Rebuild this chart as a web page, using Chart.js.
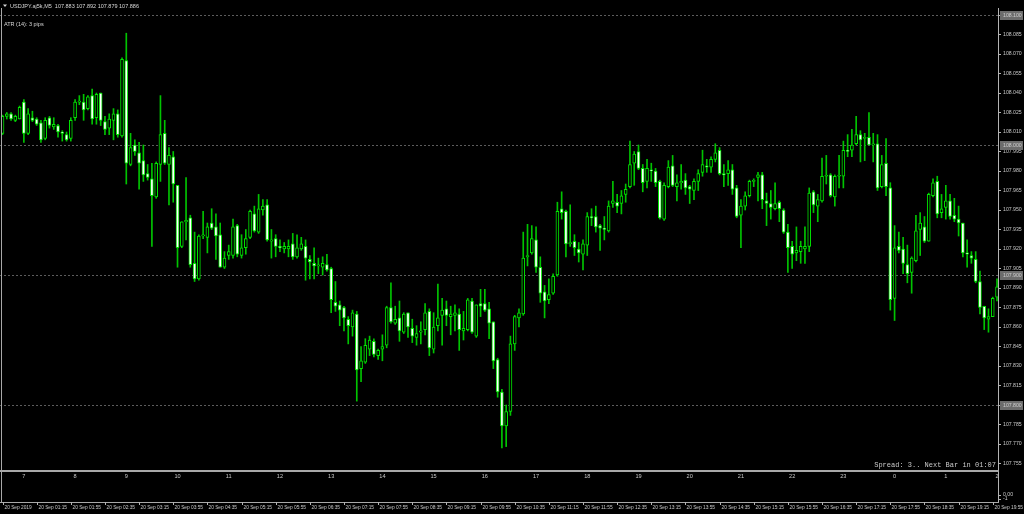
<!DOCTYPE html>
<html>
<head>
<meta charset="utf-8">
<script src="https://cdn.jsdelivr.net/npm/chart.js@4.4.0/dist/chart.umd.min.js"></script>
<style>
  html, body { margin: 0; padding: 0; background: #000; }
  #chart { display: block; }
</style>
</head>
<body>
<canvas id="chart" width="1024" height="514"></canvas>
<script>
// USDJPY M5 bars (open / high / low / close)
const opens = [
  108.009,108.022,108.024,108.019,108.020,108.033,108.009,108.021,108.020,108.017,
  108.005,108.021,108.014,108.015,108.010,108.008,108.005,108.021,108.033,108.033,
  108.028,108.038,108.021,108.040,108.018,108.013,108.019,108.024,108.007,108.065,
  107.985,108.000,107.994,107.988,107.978,107.974,107.960,107.985,108.009,107.985,
  107.991,107.969,107.922,107.941,107.944,107.909,107.897,107.930,107.929,107.940,
  107.937,107.931,107.906,107.915,107.915,107.938,107.915,107.921,107.929,107.947,
  107.933,107.950,107.954,107.926,107.928,107.922,107.920,107.920,107.924,107.914,
  107.920,107.922,107.912,107.909,107.907,107.906,107.908,107.905,107.879,107.877,
  107.875,107.866,107.860,107.870,107.828,107.833,107.843,107.849,107.838,107.843,
  107.846,107.875,107.863,107.867,107.856,107.871,107.859,107.852,107.856,107.858,
  107.872,107.843,107.861,107.869,107.874,107.868,107.869,107.870,107.857,107.858,
  107.880,107.853,107.878,107.878,107.874,107.864,107.835,107.810,107.784,107.795,
  107.847,107.867,107.870,107.914,107.917,107.927,107.906,107.887,107.881,107.886,
  107.900,107.951,107.949,107.924,107.926,107.920,107.916,107.923,107.945,107.945,
  107.938,107.936,107.934,107.955,107.956,107.955,107.962,107.968,107.986,107.995,
  107.982,107.972,107.981,107.980,107.972,107.943,107.968,107.984,107.968,107.971,
  107.973,107.968,107.965,107.972,107.979,107.984,107.983,107.989,107.996,107.978,
  107.978,107.981,107.967,107.946,107.953,107.961,107.972,107.975,107.977,107.957,
  107.955,107.951,107.956,107.950,107.933,107.922,107.917,107.918,107.920,107.922,
  107.964,107.953,107.957,107.976,107.977,107.960,107.976,107.976,107.996,107.996,
  108.001,108.008,108.005,108.006,108.000,108.001,107.968,107.986,107.967,107.882,
  107.922,107.920,107.908,107.902,107.911,107.935,107.937,107.926,107.961,107.972,
  107.948,107.952,107.957,107.946,107.943,107.940,107.917,107.915,107.912,107.895,
  107.876,107.866,107.868,107.883
]
const highs = [
  108.023,108.025,108.025,108.023,108.030,108.035,108.028,108.026,108.021,108.019,
  108.021,108.022,108.021,108.016,108.011,108.010,108.021,108.035,108.038,108.039,
  108.038,108.043,108.040,108.040,108.022,108.024,108.028,108.027,108.067,108.086,
  108.009,108.004,108.002,108.000,107.985,107.986,107.987,108.038,108.019,107.998,
  107.995,107.969,107.941,107.975,107.946,107.933,107.931,107.949,107.940,107.951,
  107.947,107.940,107.918,107.923,107.943,107.939,107.931,107.935,107.950,107.953,
  107.962,107.958,107.958,107.935,107.931,107.927,107.925,107.927,107.932,107.931,
  107.929,107.927,107.915,107.921,107.913,107.914,107.916,107.906,107.895,107.880,
  107.876,107.868,107.873,107.872,107.845,107.851,107.853,107.851,107.843,107.854,
  107.876,107.894,107.876,107.880,107.871,107.871,107.866,107.861,107.864,107.878,
  107.874,107.871,107.893,107.882,107.880,107.876,107.877,107.874,107.872,107.882,
  107.882,107.877,107.889,107.889,107.879,107.864,107.836,107.812,107.800,107.853,
  107.869,107.874,107.933,107.939,107.938,107.937,107.914,107.892,107.897,107.901,
  107.956,107.964,107.950,107.954,107.931,107.925,107.927,107.948,107.951,107.953,
  107.939,107.945,107.957,107.972,107.962,107.965,107.970,108.003,107.995,108.000,
  107.985,107.989,107.986,107.982,107.973,107.971,107.988,107.992,107.977,107.985,
  107.978,107.969,107.974,107.981,107.996,107.989,107.991,108.001,107.998,107.985,
  107.988,107.985,107.969,107.958,107.964,107.973,107.974,107.979,107.979,107.963,
  107.965,107.971,107.957,107.951,107.939,107.926,107.937,107.926,107.937,107.967,
  107.965,107.962,107.990,107.992,107.978,107.977,107.992,108.003,108.008,108.012,
  108.022,108.011,108.009,108.025,108.009,108.008,107.992,108.005,107.971,107.938,
  107.933,107.929,107.923,107.914,107.946,107.948,107.945,107.963,107.974,107.976,
  107.962,107.969,107.962,107.959,107.953,107.940,107.927,107.918,107.918,107.903,
  107.876,107.874,107.883,107.897
]
const lows = [
  108.008,108.020,108.019,108.018,108.020,108.002,108.008,108.018,108.015,108.002,
  108.004,108.013,108.012,108.006,108.003,108.003,108.003,108.019,108.031,108.019,
  108.027,108.016,108.016,108.015,108.008,108.008,108.004,108.006,108.006,107.970,
  107.984,107.992,107.966,107.972,107.973,107.922,107.959,107.972,107.985,107.954,
  107.956,107.906,107.921,107.927,107.906,107.895,107.896,107.928,107.917,107.935,
  107.912,107.906,107.905,107.912,107.913,107.914,107.913,107.916,107.928,107.933,
  107.932,107.946,107.926,107.913,107.914,107.918,107.917,107.914,107.912,107.913,
  107.919,107.896,107.897,107.897,107.901,107.900,107.903,107.871,107.872,107.861,
  107.857,107.847,107.853,107.803,107.818,107.832,107.838,107.837,107.835,107.834,
  107.844,107.863,107.862,107.849,107.855,107.852,107.848,107.846,107.847,107.854,
  107.838,107.840,107.857,107.846,107.861,107.854,107.857,107.842,107.850,107.857,
  107.855,107.852,107.868,107.872,107.851,107.828,107.806,107.767,107.768,107.792,
  107.842,107.860,107.869,107.907,107.916,107.902,107.879,107.867,107.878,107.885,
  107.899,107.943,107.914,107.922,107.915,107.910,107.904,107.915,107.938,107.933,
  107.919,107.927,107.933,107.952,107.948,107.947,107.956,107.967,107.969,107.981,
  107.964,107.967,107.972,107.968,107.943,107.942,107.967,107.968,107.957,107.966,
  107.962,107.955,107.958,107.965,107.976,107.979,107.979,107.987,107.977,107.968,
  107.969,107.962,107.944,107.921,107.950,107.960,107.968,107.957,107.951,107.938,
  107.943,107.950,107.941,107.932,107.902,107.905,107.911,107.909,107.909,107.918,
  107.948,107.941,107.956,107.970,107.960,107.953,107.967,107.967,107.991,107.991,
  108.000,107.987,107.988,108.000,107.987,107.965,107.967,107.961,107.873,107.865,
  107.917,107.901,107.894,107.886,107.910,107.915,107.925,107.926,107.960,107.944,
  107.944,107.943,107.943,107.941,107.930,107.914,107.906,107.909,107.894,107.870,
  107.858,107.856,107.868,107.880
]
const closes = [
  108.022,108.024,108.020,108.022,108.029,108.009,108.024,108.019,108.016,108.004,
  108.019,108.015,108.016,108.010,108.009,108.004,108.019,108.033,108.033,108.027,
  108.037,108.020,108.039,108.019,108.012,108.020,108.024,108.008,108.066,107.986,
  107.998,107.995,107.986,107.977,107.975,107.961,107.986,108.008,107.986,107.992,
  107.970,107.921,107.941,107.942,107.908,107.897,107.930,107.931,107.937,107.936,
  107.930,107.906,107.913,107.918,107.937,107.916,107.921,107.928,107.949,107.934,
  107.951,107.953,107.927,107.927,107.922,107.921,107.922,107.922,107.914,107.921,
  107.924,107.913,107.910,107.907,107.907,107.909,107.904,107.881,107.876,107.873,
  107.867,107.861,107.871,107.827,107.834,107.846,107.850,107.839,107.842,107.845,
  107.875,107.864,107.866,107.857,107.870,107.860,107.853,107.855,107.857,107.871,
  107.844,107.860,107.867,107.873,107.869,107.870,107.871,107.858,107.859,107.881,
  107.856,107.877,107.876,107.873,107.863,107.834,107.810,107.784,107.795,107.847,
  107.868,107.871,107.913,107.915,107.928,107.906,107.886,107.880,107.885,107.899,
  107.949,107.948,107.924,107.925,107.921,107.917,107.924,107.945,107.944,107.937,
  107.936,107.935,107.953,107.957,107.953,107.961,107.966,107.985,107.993,107.982,
  107.971,107.982,107.980,107.971,107.944,107.969,107.983,107.969,107.971,107.972,
  107.967,107.966,107.972,107.978,107.985,107.983,107.989,107.994,107.978,107.977,
  107.981,107.966,107.945,107.953,107.961,107.972,107.972,107.977,107.958,107.955,
  107.952,107.955,107.951,107.933,107.921,107.916,107.919,107.922,107.922,107.963,
  107.954,107.958,107.976,107.976,107.961,107.976,107.976,107.996,107.995,108.000,
  108.008,108.004,108.006,108.000,108.001,107.967,107.985,107.968,107.881,107.921,
  107.919,107.909,107.901,107.913,107.934,107.940,107.926,107.962,107.971,107.947,
  107.951,107.957,107.945,107.943,107.940,107.917,107.916,107.913,107.895,107.875,
  107.867,107.868,107.882,107.891
]

// bottom time axis, one label every 8 bars
const timeLabels = [
  '20 Sep 2019','20 Sep 01:15','20 Sep 01:55','20 Sep 02:35','20 Sep 03:15','20 Sep 03:55',
  '20 Sep 04:35','20 Sep 05:15','20 Sep 05:55','20 Sep 06:35','20 Sep 07:15','20 Sep 07:55',
  '20 Sep 08:35','20 Sep 09:15','20 Sep 09:55','20 Sep 10:35','20 Sep 11:15','20 Sep 11:55',
  '20 Sep 12:35','20 Sep 13:15','20 Sep 13:55','20 Sep 14:35','20 Sep 15:15','20 Sep 15:55',
  '20 Sep 16:35','20 Sep 17:15','20 Sep 17:55','20 Sep 18:35','20 Sep 19:15','20 Sep 19:55'
]
const timeStep = 8

// hour numbers in the lower window, first one on bar 5, then every 12 bars
const hourLabels = ['7','8','9','10','11','12','13','14','15','16','17','18','19','20','21','22','23','0','1','2']
const hourFirstBar = 5
const hourStep = 12

// right price scale
const priceTicks = [
  108.100,108.085,108.070,108.055,108.040,108.025,108.010,107.995,107.980,107.965,107.950,107.935,
  107.920,107.905,107.890,107.875,107.860,107.845,107.830,107.815,107.800,107.785,107.770,107.755
]
const gridLevels = [108.100, 108.000, 107.900, 107.800]
const subTicks = [0, -1]
const subTickLabels = ['0.00', '-1']

const titleText = 'USDJPY.aj5k,M5  107.883 107.892 107.879 107.886'
const atrText = 'ATR (14): 3 pips'
const spreadText = 'Spread: 3.. Next Bar in 01:07'

/* couleurs */
const BULL_FILL = '#000000'
const BEAR_FILL = '#ffffff'
const BODY_LINE = '#00e600'
const WICK = '#00c400'
const AXIS = '#b4b4b4'
const TXT = '#c8c8c8'

const bodies = opens.map((o, i) => ({ x: i, y: [o, closes[i]] }))
const wicks = highs.map((h, i) => ({ x: i, y: [lows[i], h] }))
const fills = opens.map((o, i) => closes[i] >= o ? BULL_FILL : BEAR_FILL)

const mt4Plugin = {
  id: 'mt4',
  beforeDatasetsDraw(chart) {
    const { ctx, chartArea, scales } = chart
    ctx.save()
    ctx.strokeStyle = '#5c5c5c'
    ctx.lineWidth = 1
    ctx.setLineDash([2, 2])
    gridLevels.forEach(v => {
      const y = Math.round(scales.y.getPixelForValue(v)) + 0.5
      ctx.beginPath()
      ctx.moveTo(chartArea.left, y)
      ctx.lineTo(chartArea.right, y)
      ctx.stroke()
    })
    ctx.restore()
  },
  afterDraw(chart) {
    const { ctx, chartArea, scales } = chart
    const xs = scales.x
    ctx.save()

    // grid level boxes on the price scale
    ctx.font = '5.2px "Liberation Sans"'
    ctx.textBaseline = 'middle'
    ctx.textAlign = 'left'
    gridLevels.forEach(v => {
      const y = Math.round(scales.y.getPixelForValue(v))
      ctx.fillStyle = '#6c6c6c'
      ctx.fillRect(chartArea.right + 2, y - 4, 23, 9)
      ctx.fillStyle = '#cfcfcf'
      ctx.fillText(v.toFixed(3), chartArea.right + 5, y + 0.5)
    })

    // window frames
    ctx.fillStyle = '#a8a8a8'
    ctx.fillRect(0, 470, chartArea.right + 1, 2)
    ctx.fillRect(1, chartArea.top, 1, chartArea.bottom - chartArea.top + 1)
    ctx.fillRect(0, chartArea.bottom, chartArea.right + 1, 1)

    // hour numbers in the lower window
    ctx.fillStyle = TXT
    ctx.font = '5.6px "Liberation Sans"'
    ctx.textAlign = 'center'
    hourLabels.forEach((h, k) => {
      ctx.fillText(h, xs.getPixelForValue(hourFirstBar + k * hourStep), 476)
    })

    // time axis
    ctx.font = '4.8px "Liberation Sans"'
    ctx.textAlign = 'left'
    timeLabels.forEach((t, k) => {
      const x = Math.round(xs.getPixelForValue(k * timeStep)) + 0.5
      ctx.fillStyle = AXIS
      ctx.fillRect(x - 0.5, chartArea.bottom, 1, 3)
      ctx.fillStyle = TXT
      ctx.fillText(t, x + 1, 508)
    })

    // texts
    ctx.fillStyle = '#d8d8d8'
    ctx.font = '5.5px "Liberation Sans"'
    ctx.fillText(titleText, 10, 6)
    ctx.fillText(atrText, 4, 24.5)
    ctx.beginPath()
    ctx.moveTo(3, 4.5); ctx.lineTo(7, 4.5); ctx.lineTo(5, 7); ctx.closePath()
    ctx.fill()

    ctx.fillStyle = TXT
    ctx.font = '7px "Liberation Mono"'
    ctx.textAlign = 'right'
    ctx.fillText(spreadText, chartArea.right - 2, 465)
    ctx.restore()
  }
}

new Chart(document.getElementById('chart'), {
  type: 'bar',
  data: {
    datasets: [
      {
        label: 'bodies',
        data: bodies,
        backgroundColor: fills,
        borderColor: BODY_LINE,
        borderWidth: 1,
        borderSkipped: false,
        barThickness: 3,
        minBarLength: 1,
        grouped: false,
        order: 0,
        yAxisID: 'y'
      },
      {
        label: 'wicks',
        data: wicks,
        backgroundColor: WICK,
        borderWidth: 0,
        barThickness: 1,
        grouped: false,
        order: 1,
        yAxisID: 'y'
      }
    ]
  },
  options: {
    responsive: false,
    animation: false,
    devicePixelRatio: 1,
    layout: { padding: { top: 8, bottom: 12, left: 0, right: 0 } },
    plugins: { legend: { display: false }, tooltip: { enabled: false } },
    scales: {
      x: {
        type: 'linear',
        display: false,
        offset: false,
        min: -0.59,
        max: 233.23
      },
      y: {
        position: 'right',
        stack: 'pane',
        stackWeight: 462,
        min: 107.75,
        max: 108.1054,
        grid: { drawOnChartArea: false, color: AXIS, tickLength: 3 },
        border: { color: AXIS },
        ticks: {
          color: TXT,
          padding: 2,
          font: { family: 'Liberation Sans', size: 5.2 },
          callback: v => v.toFixed(3)
        },
        afterBuildTicks: s => { s.ticks = priceTicks.map(v => ({ value: v })) },
        afterFit: s => { s.width = 26 }
      },
      ySub: {
        position: 'right',
        stack: 'pane',
        stackWeight: 32,
        min: -1.75,
        max: 6.25,
        grid: { drawOnChartArea: false, color: AXIS, tickLength: 3 },
        border: { color: AXIS },
        ticks: {
          color: TXT,
          padding: 2,
          font: { family: 'Liberation Sans', size: 5.2 },
          callback: (v, i) => subTickLabels[i]
        },
        afterBuildTicks: s => { s.ticks = subTicks.map(v => ({ value: v })) },
        afterFit: s => { s.width = 26 }
      }
    }
  },
  plugins: [mt4Plugin]
})
</script>
</body>
</html>
